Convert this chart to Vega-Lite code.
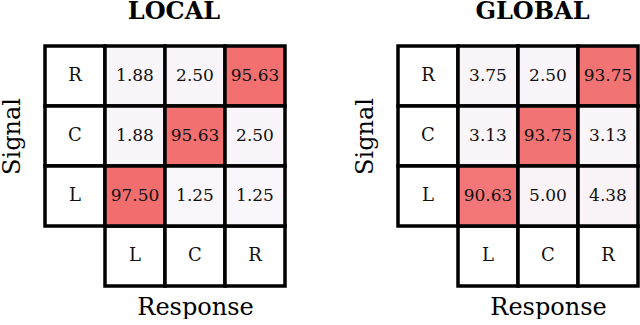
{
  "$schema": "https://vega.github.io/schema/vega-lite/v6.json",
  "padding": {"left": 0, "top": 0, "right": 0, "bottom": 0},
  "config": {
    "font": "DejaVu Serif",
    "view": {"stroke": null},
    "axis": {"labels": false, "ticks": false, "domain": false, "grid": false, "titleFont": "DejaVu Serif", "titleFontSize": 24, "titleFontWeight": "normal", "titleColor": "black"},
    "axisX": {"titlePadding": 9, "titleX": 150},
    "axisY": {"titlePadding": 21, "titleY": 90}
  },
  "spacing": 66,
  "datasets": {
    "cells": [
      {"panel": "LOCAL", "signal": "R", "response": "L", "value": 1.88},
      {"panel": "LOCAL", "signal": "R", "response": "C", "value": 2.50},
      {"panel": "LOCAL", "signal": "R", "response": "R", "value": 95.63},
      {"panel": "LOCAL", "signal": "C", "response": "L", "value": 1.88},
      {"panel": "LOCAL", "signal": "C", "response": "C", "value": 95.63},
      {"panel": "LOCAL", "signal": "C", "response": "R", "value": 2.50},
      {"panel": "LOCAL", "signal": "L", "response": "L", "value": 97.50},
      {"panel": "LOCAL", "signal": "L", "response": "C", "value": 1.25},
      {"panel": "LOCAL", "signal": "L", "response": "R", "value": 1.25},
      {"panel": "GLOBAL", "signal": "R", "response": "L", "value": 3.75},
      {"panel": "GLOBAL", "signal": "R", "response": "C", "value": 2.50},
      {"panel": "GLOBAL", "signal": "R", "response": "R", "value": 93.75},
      {"panel": "GLOBAL", "signal": "C", "response": "L", "value": 3.13},
      {"panel": "GLOBAL", "signal": "C", "response": "C", "value": 93.75},
      {"panel": "GLOBAL", "signal": "C", "response": "R", "value": 3.13},
      {"panel": "GLOBAL", "signal": "L", "response": "L", "value": 90.63},
      {"panel": "GLOBAL", "signal": "L", "response": "C", "value": 5.00},
      {"panel": "GLOBAL", "signal": "L", "response": "R", "value": 4.38}
    ],
    "labels": [
      {"row": "R", "col": "lab", "text": "R"},
      {"row": "C", "col": "lab", "text": "C"},
      {"row": "L", "col": "lab", "text": "L"},
      {"row": "lab", "col": "L", "text": "L"},
      {"row": "lab", "col": "C", "text": "C"},
      {"row": "lab", "col": "R", "text": "R"}
    ]
  },
  "hconcat": [
    {
      "width": 240, "height": 240,
      "title": {"text": "LOCAL", "font": "DejaVu Serif", "fontSize": 24, "fontWeight": "bold", "color": "black", "offset": 20, "dx": 9, "anchor": "middle"},
      "encoding": {
        "x": {"type": "nominal", "scale": {"domain": ["lab", "L", "C", "R"], "paddingInner": 0, "paddingOuter": 0}, "axis": {"title": "Response"}},
        "y": {"type": "nominal", "scale": {"domain": ["R", "C", "L", "lab"], "paddingInner": 0, "paddingOuter": 0}, "axis": {"title": "Signal"}}
      },
      "layer": [
        {"data": {"name": "labels"}, "mark": {"type": "rect", "fill": "white", "stroke": "black", "strokeWidth": 3.5},
         "encoding": {"x": {"field": "col", "type": "nominal"}, "y": {"field": "row", "type": "nominal"}}},
        {"data": {"name": "cells"}, "transform": [{"filter": "datum.panel === 'LOCAL'"}],
         "mark": {"type": "rect", "stroke": "black", "strokeWidth": 3.5},
         "encoding": {"x": {"field": "response", "type": "nominal"}, "y": {"field": "signal", "type": "nominal"},
           "fill": {"field": "value", "type": "quantitative", "scale": {"domain": [0, 100], "range": ["#f9f9fe", "#f26a6a"], "interpolate": "rgb", "clamp": true}, "legend": null}}},
        {"data": {"name": "labels"}, "mark": {"type": "text", "fontSize": 18, "font": "DejaVu Serif", "color": "#111"},
         "encoding": {"x": {"field": "col", "type": "nominal"}, "y": {"field": "row", "type": "nominal"}, "text": {"field": "text"}}},
        {"data": {"name": "cells"}, "transform": [{"filter": "datum.panel === 'LOCAL'"}],
         "mark": {"type": "text", "fontSize": 17, "font": "DejaVu Serif", "color": "#111"},
         "encoding": {"x": {"field": "response", "type": "nominal"}, "y": {"field": "signal", "type": "nominal"}, "text": {"field": "value", "type": "quantitative", "format": ".2f"}}}
      ]
    },
    {
      "width": 240, "height": 240,
      "title": {"text": "GLOBAL", "font": "DejaVu Serif", "fontSize": 24, "fontWeight": "bold", "color": "black", "offset": 20, "dx": 14.5, "anchor": "middle"},
      "encoding": {
        "x": {"type": "nominal", "scale": {"domain": ["lab", "L", "C", "R"], "paddingInner": 0, "paddingOuter": 0}, "axis": {"title": "Response"}},
        "y": {"type": "nominal", "scale": {"domain": ["R", "C", "L", "lab"], "paddingInner": 0, "paddingOuter": 0}, "axis": {"title": "Signal"}}
      },
      "layer": [
        {"data": {"name": "labels"}, "mark": {"type": "rect", "fill": "white", "stroke": "black", "strokeWidth": 3.5},
         "encoding": {"x": {"field": "col", "type": "nominal"}, "y": {"field": "row", "type": "nominal"}}},
        {"data": {"name": "cells"}, "transform": [{"filter": "datum.panel === 'GLOBAL'"}],
         "mark": {"type": "rect", "stroke": "black", "strokeWidth": 3.5},
         "encoding": {"x": {"field": "response", "type": "nominal"}, "y": {"field": "signal", "type": "nominal"},
           "fill": {"field": "value", "type": "quantitative", "scale": {"domain": [0, 100], "range": ["#f9f9fe", "#f26a6a"], "interpolate": "rgb", "clamp": true}, "legend": null}}},
        {"data": {"name": "labels"}, "mark": {"type": "text", "fontSize": 18, "font": "DejaVu Serif", "color": "#111"},
         "encoding": {"x": {"field": "col", "type": "nominal"}, "y": {"field": "row", "type": "nominal"}, "text": {"field": "text"}}},
        {"data": {"name": "cells"}, "transform": [{"filter": "datum.panel === 'GLOBAL'"}],
         "mark": {"type": "text", "fontSize": 17, "font": "DejaVu Serif", "color": "#111"},
         "encoding": {"x": {"field": "response", "type": "nominal"}, "y": {"field": "signal", "type": "nominal"}, "text": {"field": "value", "type": "quantitative", "format": ".2f"}}}
      ]
    }
  ]
}
